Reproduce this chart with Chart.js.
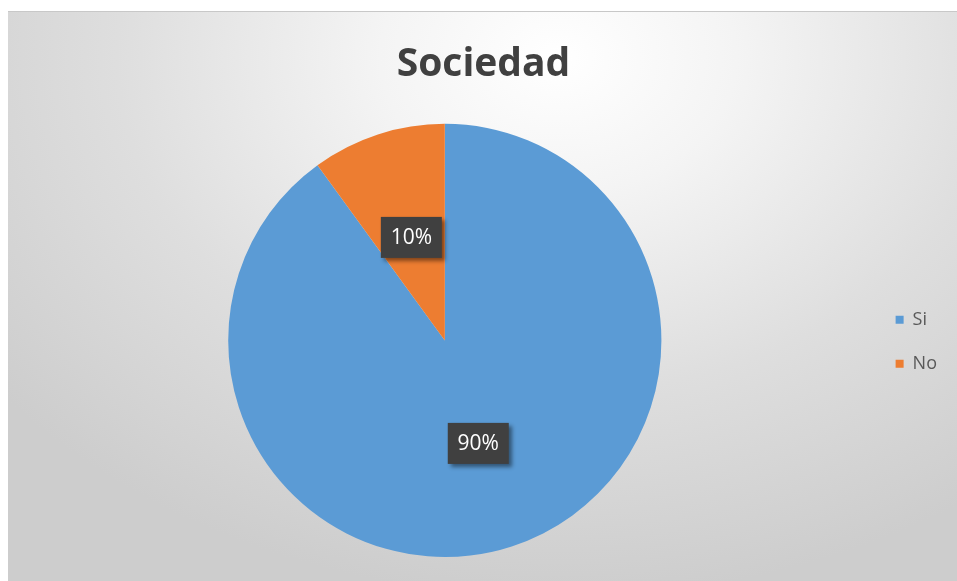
<!DOCTYPE html>
<html>
<head>
<meta charset="utf-8">
<script src="https://cdn.jsdelivr.net/npm/chart.js@4/dist/chart.umd.min.js"></script>
<style>
  body { margin: 0; background: #fff; }
  #marco {
    position: absolute; left: 8px; top: 11px; width: 949px; height: 570px;
    border-top: 1px solid #c8c8c8;
    box-sizing: border-box;
    background: radial-gradient(ellipse 75% 95% at 58% 8%, #ffffff 0%, #f4f4f4 25%, #dedede 62%, #cdcdcd 100%);
  }
  canvas { display: block; }
</style>
</head>
<body>
<div id="marco"><canvas id="grafica" width="949" height="569"></canvas></div>
<script>
const titulo = 'Sociedad';
const categorias = ['Si', 'No'];
const valores = [90, 10];
const colores = ['#5b9bd5', '#ed7d31'];

// etiquetas de porcentaje en cajas oscuras
const etiquetasPlugin = {
    id: 'etiquetas',
    afterDatasetsDraw(chart) {
        const ctx = chart.ctx;
        const meta = chart.getDatasetMeta(0);
        const total = valores.reduce((a, b) => a + b, 0);
        meta.data.forEach((arco, i) => {
            const pos = arco.tooltipPosition();
            const texto = Math.round(valores[i] / total * 100) + '%';
            ctx.save();
            ctx.font = '21px "Open Sans"';
            const w = 61, h = 41;
            const x = pos.x - w / 2, y = pos.y - h / 2;
            ctx.shadowColor = 'rgba(0,0,0,0.45)';
            ctx.shadowBlur = 4;
            ctx.shadowOffsetX = 3;
            ctx.shadowOffsetY = 3;
            ctx.fillStyle = '#404040';
            ctx.fillRect(x, y, w, h);
            ctx.shadowColor = 'transparent';
            ctx.fillStyle = '#ffffff';
            ctx.textAlign = 'center';
            ctx.textBaseline = 'middle';
            ctx.fillText(texto, pos.x, pos.y + 1);
            ctx.restore();
        });
    }
};

const ctx = document.getElementById('grafica').getContext('2d');
new Chart(ctx, {
    type: 'pie',
    data: {
        labels: categorias,
        datasets: [{
            data: valores,
            backgroundColor: colores,
            borderWidth: 0
        }]
    },
    options: {
        responsive: false,
        animation: false,
        layout: {
            padding: { left: 12, right: 10, top: 0, bottom: 24 }
        },
        plugins: {
            title: {
                display: true,
                text: titulo,
                color: '#404040',
                font: { family: 'Open Sans', size: 39, weight: 'bold' },
                padding: { top: 29, bottom: 36 }
            },
            legend: {
                position: 'right',
                title: {
                    display: true,
                    text: '',
                    font: { size: 12 },
                    padding: { top: 50, bottom: 50 }
                },
                labels: {
                    boxWidth: 8,
                    boxHeight: 8,
                    padding: 26,
                    color: '#595959',
                    font: { family: 'Open Sans', size: 18 }
                }
            },
            tooltip: { enabled: false }
        }
    },
    plugins: [etiquetasPlugin]
});
</script>
</body>
</html>
